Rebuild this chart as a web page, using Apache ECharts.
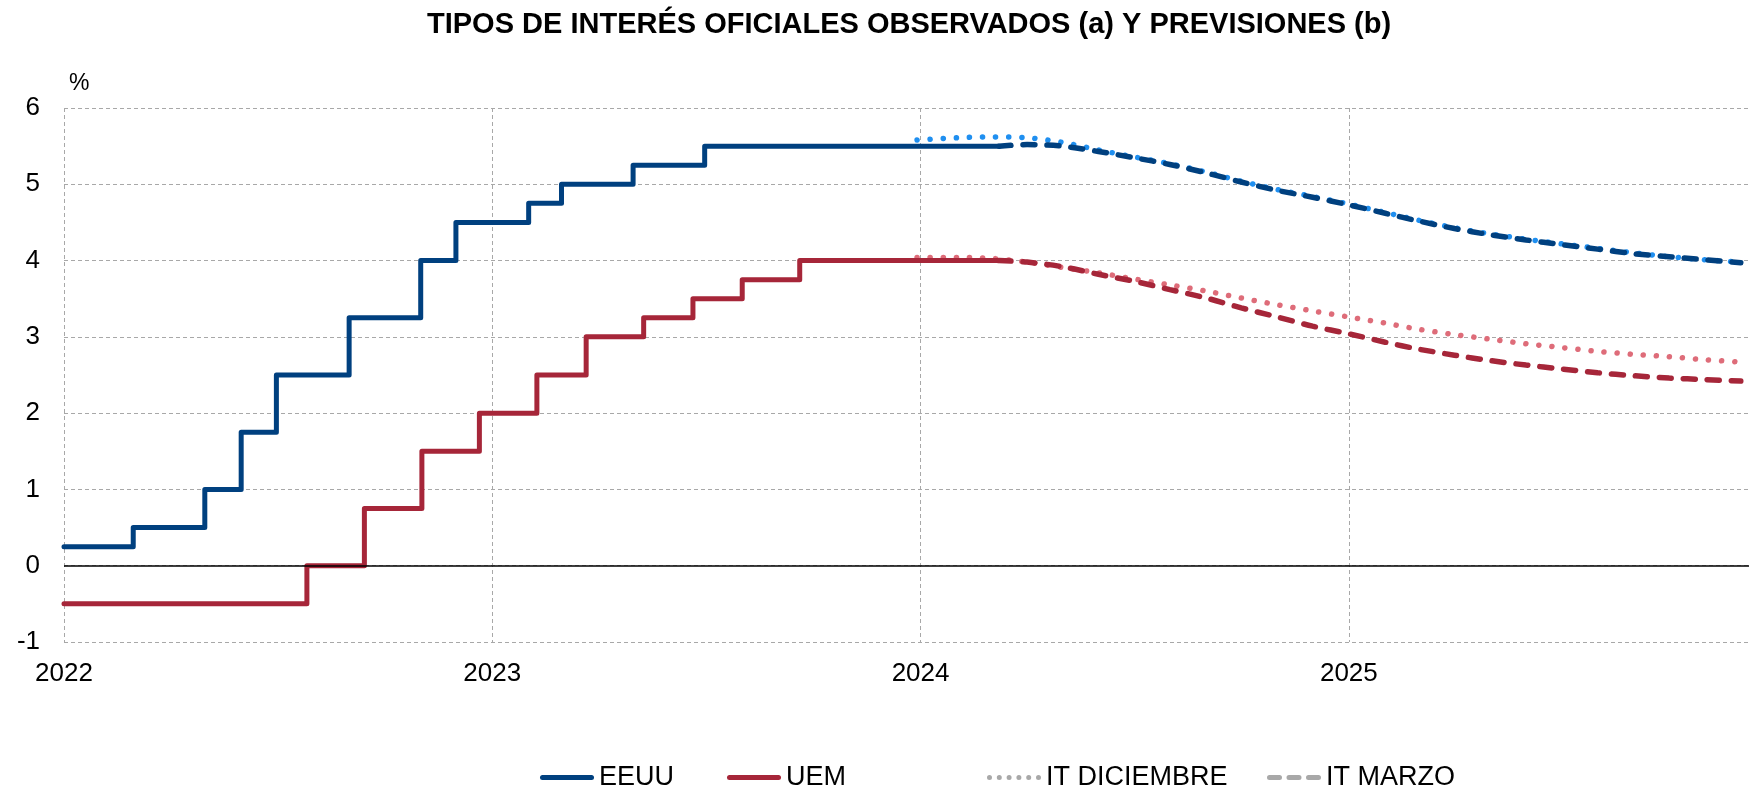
<!DOCTYPE html>
<html lang="es">
<head>
<meta charset="UTF-8">
<script src="https://cdn.jsdelivr.net/npm/echarts@6/dist/echarts.min.js"></script>
<style>
  html, body { margin: 0; padding: 0; background: #fff; }
  #chart { width: 1749px; height: 789px; }
</style>
</head>
<body>
<div id="chart"></div>
<script>
// tipos observados: fecha de cada cambio y nivel (%)
var eeuuFechas = ['2022-01-01', '2022-03-01', '2022-05-01', '2022-06-01', '2022-07-01', '2022-09-01',
                  '2022-11-01', '2022-12-01', '2023-02-01', '2023-03-01', '2023-05-01', '2023-07-01', '2024-03-08'];
var eeuuTipos = [0.25, 0.5, 1.0, 1.75, 2.5, 3.25, 4.0, 4.5, 4.75, 5.0, 5.25, 5.5, 5.5];

var uemFechas = ['2022-01-01', '2022-07-27', '2022-09-14', '2022-11-02', '2022-12-21', '2023-02-08',
                 '2023-03-22', '2023-05-10', '2023-06-21', '2023-08-02', '2023-09-20', '2024-03-08'];
var uemTipos = [-0.5, 0, 0.75, 1.5, 2.0, 2.5, 3.0, 3.25, 3.5, 3.75, 4.0, 4.0];

// previsiones IT diciembre
var fechasDic = ['2023-12-29', '2024-02-01', '2024-03-01', '2024-04-01', '2024-05-01', '2024-06-01',
                 '2024-07-01', '2024-08-01', '2024-09-01', '2024-10-01', '2024-11-01', '2024-12-01',
                 '2025-01-01', '2025-02-01', '2025-03-01', '2025-04-01', '2025-05-01', '2025-06-01',
                 '2025-07-01', '2025-08-01', '2025-09-01', '2025-10-01', '2025-11-01', '2025-12-01'];
var eeuuDic = [5.58, 5.61, 5.62, 5.61, 5.55, 5.45, 5.36, 5.27, 5.16, 5.04, 4.93, 4.84,
               4.74, 4.63, 4.53, 4.43, 4.35, 4.28, 4.22, 4.16, 4.10, 4.05, 4.01, 3.98];
var uemDic = [4.04, 4.04, 4.03, 3.98, 3.91, 3.84, 3.76, 3.68, 3.60, 3.51, 3.42, 3.34,
              3.26, 3.18, 3.10, 3.03, 2.97, 2.91, 2.86, 2.81, 2.77, 2.74, 2.70, 2.67];

// previsiones IT marzo
var fechasMarzo = ['2024-03-08', '2024-04-01', '2024-05-01', '2024-06-01', '2024-07-01', '2024-08-01',
                   '2024-09-01', '2024-10-01', '2024-11-01', '2024-12-01',
                   '2025-01-01', '2025-02-01', '2025-03-01', '2025-04-01', '2025-05-01', '2025-06-01',
                   '2025-07-01', '2025-08-01', '2025-09-01', '2025-10-01', '2025-11-01', '2025-12-01'];
var eeuuMarzo = [5.50, 5.52, 5.50, 5.43, 5.35, 5.26, 5.15, 5.03, 4.92, 4.83,
                 4.73, 4.62, 4.52, 4.42, 4.34, 4.27, 4.21, 4.15, 4.09, 4.05, 4.01, 3.97];
var uemMarzo = [4.00, 3.98, 3.92, 3.82, 3.73, 3.62, 3.51, 3.38, 3.26, 3.14,
                3.04, 2.93, 2.84, 2.76, 2.69, 2.63, 2.58, 2.53, 2.49, 2.46, 2.44, 2.42];

var anyos = ['2022', '2023', '2024', '2025'];

// fecha -> año con decimales
function aAnyo(s) {
    var d = Date.parse(s + 'T00:00:00Z');
    var y = new Date(d).getUTCFullYear();
    var ini = Date.UTC(y, 0, 1), fin = Date.UTC(y + 1, 0, 1);
    return y + (d - ini) / (fin - ini);
}
function pares(fechas, vals) {
    return fechas.map(function (f, i) { return [aAnyo(f), vals[i]]; });
}

var azul = '#00407f', rojo = '#a62639', azulClaro = '#1f8ff0', rosa = '#de6c79', gris = '#a8a8a8';
var fuente = 'Liberation Sans, Arial, sans-serif';
var punteado = [0.1, 13], discontinuo = [12, 12];

// iconos de leyenda (54 x 5)
function tramo(x, w) {
    return 'M' + (x + 2.5) + ',0 h' + (w - 5) + ' a2.5,2.5 0 0 1 0,5 h' + (5 - w) + ' a2.5,2.5 0 0 1 0,-5 z ';
}
var iconoLinea = 'path://' + tramo(0, 54);
var iconoGuiones = 'path://' + tramo(0, 15) + tramo(19.5, 15) + tramo(39, 15);
var iconoPuntos = 'path://';
for (var k = 0; k < 6; k++) {
    var cx = 2.5 + k * 9.8;
    iconoPuntos += 'M' + (cx - 2.5) + ',2.5 a2.5,2.5 0 1 0 5,0 a2.5,2.5 0 1 0 -5,0 z ';
}

var chart = echarts.init(document.getElementById('chart'));

function leyenda(nombre, x, icono) {
    return {
        data: [{ name: nombre, icon: icono }], left: x, top: 764, itemWidth: 54, itemHeight: 5, padding: 0,
        selectedMode: false,
        textStyle: { fontFamily: fuente, fontSize: 27, color: '#000' }
    };
}

var option = {
    animation: false,
    backgroundColor: '#fff',
    title: {
        text: 'TIPOS DE INTERÉS OFICIALES OBSERVADOS (a) Y PREVISIONES (b)',
        left: 427, top: 10, padding: 0,
        textStyle: { fontFamily: fuente, fontSize: 29, fontWeight: 'bold', color: '#000' }
    },
    legend: [
        leyenda('EEUU', 540, iconoLinea),
        leyenda('UEM', 727, iconoLinea),
        leyenda('IT DICIEMBRE', 987, iconoPuntos),
        leyenda('IT MARZO', 1267, iconoGuiones)
    ],
    grid: { left: 64, right: 0, top: 108, bottom: 147 },
    xAxis: {
        type: 'value', min: Number(anyos[0]), max: aAnyo('2025-12-08'), interval: 1,
        axisLine: { show: false }, axisTick: { show: false },
        axisLabel: {
            fontFamily: fuente, fontSize: 26, color: '#000', margin: 19, showMaxLabel: false,
            formatter: function (v) { return anyos.indexOf(String(v)) >= 0 ? String(v) : ''; }
        },
        splitLine: { show: true, lineStyle: { color: gris, type: [4, 3], width: 1 } }
    },
    yAxis: {
        type: 'value', min: -1, max: 6, interval: 1,
        name: '%', nameLocation: 'end', nameGap: 13,
        nameTextStyle: { fontFamily: fuente, fontSize: 23, color: '#000', align: 'left', verticalAlign: 'bottom', padding: [0, 0, 0, 5] },
        axisLine: { show: false }, axisTick: { show: false },
        axisLabel: { fontFamily: fuente, fontSize: 26, color: '#000', margin: 24 },
        splitLine: { show: true, lineStyle: { color: gris, type: [4, 3], width: 1 } }
    },
    series: [
        {
            name: 'IT DICIEMBRE EEUU', type: 'line', smooth: 0.3, symbol: 'none', z: 2,
            lineStyle: { color: azulClaro, width: 5.5, type: punteado, cap: 'round' },
            data: pares(fechasDic, eeuuDic)
        },
        {
            name: 'IT DICIEMBRE UEM', type: 'line', smooth: 0.3, symbol: 'none', z: 2,
            lineStyle: { color: rosa, width: 5.5, type: punteado, cap: 'round' },
            data: pares(fechasDic, uemDic)
        },
        {
            name: 'EEUU', type: 'line', step: 'end', symbol: 'none', z: 3,
            itemStyle: { color: azul },
            lineStyle: { color: azul, width: 5, join: 'round', cap: 'round' },
            data: pares(eeuuFechas, eeuuTipos),
            markLine: {
                silent: true, symbol: ['none', 'none'], label: { show: false },
                lineStyle: { color: '#000', width: 1.5, type: 'solid' },
                data: [{ yAxis: 0 }]
            }
        },
        {
            name: 'UEM', type: 'line', step: 'end', symbol: 'none', z: 3,
            itemStyle: { color: rojo },
            lineStyle: { color: rojo, width: 5, join: 'round', cap: 'round' },
            data: pares(uemFechas, uemTipos)
        },
        {
            name: 'IT MARZO EEUU', type: 'line', smooth: 0.3, symbol: 'none', z: 4,
            lineStyle: { color: azul, width: 5.5, type: discontinuo, cap: 'round' },
            data: pares(fechasMarzo, eeuuMarzo)
        },
        {
            name: 'IT MARZO UEM', type: 'line', smooth: 0.3, symbol: 'none', z: 4,
            lineStyle: { color: rojo, width: 5.5, type: discontinuo, cap: 'round' },
            data: pares(fechasMarzo, uemMarzo)
        },
        // solo para la leyenda
        {
            name: 'IT DICIEMBRE', type: 'line', symbol: 'none', data: [],
            itemStyle: { color: gris },
            lineStyle: { color: gris, width: 5, type: punteado, cap: 'round' }
        },
        {
            name: 'IT MARZO', type: 'line', symbol: 'none', data: [],
            itemStyle: { color: gris },
            lineStyle: { color: gris, width: 5, type: discontinuo, cap: 'round' }
        }
    ]
};
chart.setOption(option);
</script>
</body>
</html>
